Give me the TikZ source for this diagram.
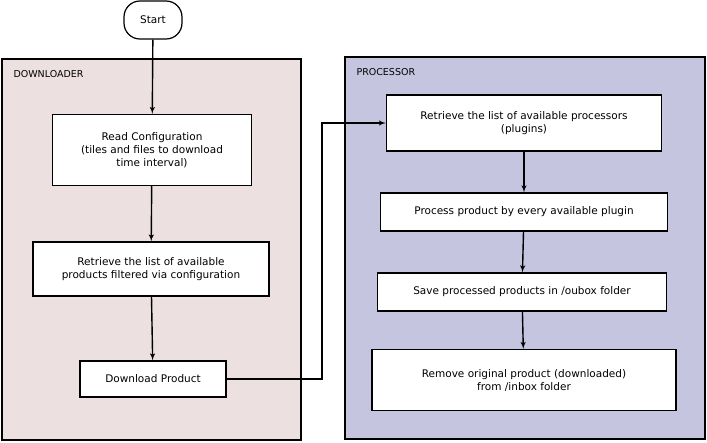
\documentclass[tikz,border=0pt]{standalone}
\usepackage{fontspec}
\setmainfont{DejaVu Sans}
\usetikzlibrary{positioning, arrows}

\begin{document}
\begin{tikzpicture}[x=1pt,y=-1pt,
        panel/.style = {draw=black,line width=1.2pt},
        stepbox/.style = {draw,fill=white,line width=1.2pt,align=center,font=\fontsize{10.5}{13}\selectfont,inner sep=0pt},
        flow/.style = {-latex',line width=1.4pt},
        ]
        \useasboundingbox (0,0) rectangle (707,442);
        \draw[panel,fill={rgb,255:red,237;green,224;blue,224}] (2,59) rectangle (301,440);
        \draw[panel,fill={rgb,255:red,197;green,197;blue,224}] (345,57) rectangle (705,439);
        \node[anchor=west,font=\fontsize{9.5}{11}\selectfont] (dl) at (10,74) {DOWNLOADER};
        \node[anchor=west,font=\fontsize{9.5}{11}\selectfont] (pr) at (353,72) {PROCESSOR};

        \node[stepbox,rounded corners=16pt,minimum width=58,minimum height=38] (start) at (153,20) {Start};
        \node[stepbox,minimum width=199,minimum height=71] (read) at (152,150) {Read Configuration\\(tiles and files to download\\time interval)};
        \node[stepbox,minimum width=236,minimum height=54] (list) at (151,269) {Retrieve the list of available\\products filtered via configuration};
        \node[stepbox,minimum width=146,minimum height=36] (down) at (153,379) {Download Product};

        \node[stepbox,minimum width=275,minimum height=56] (plug) at (524,123) {Retrieve the list of available processors\\(plugins)};
        \node[stepbox,minimum width=287,minimum height=38] (proc) at (524,212) {Process product by every available plugin};
        \node[stepbox,minimum width=289,minimum height=38] (save) at (522,292) {Save processed products in /oubox folder};
        \node[stepbox,minimum width=304,minimum height=61] (rem) at (524,380) {Remove original product (downloaded)\\from /inbox folder};

        \draw[flow] (start) -- (read);
        \draw[flow] (read) -- (list);
        \draw[flow] (list) -- (down);
        \draw[flow] (down.east) -- (322,379) |- (plug.west);
        \draw[flow] (plug) -- (proc);
        \draw[flow] (proc) -- (save);
        \draw[flow] (save) -- (rem);
    \end{tikzpicture}
\end{document}
